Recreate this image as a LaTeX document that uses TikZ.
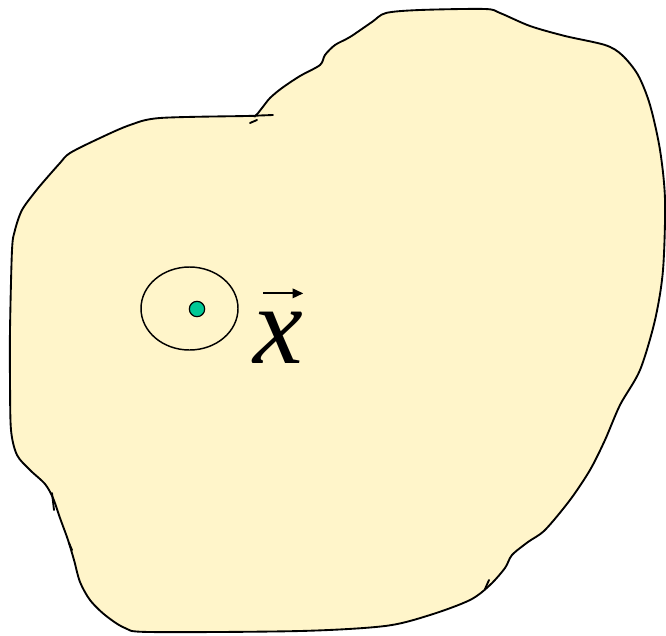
\documentclass[tikz,border=0pt]{standalone}
\usepackage{fontspec}
\setmainfont{Liberation Serif}
\usetikzlibrary{shapes.geometric,arrows.meta}
\definecolor{blobfill}{HTML}{FFF5CA}
\definecolor{dotgreen}{HTML}{00C896}
\begin{document}
\begin{tikzpicture}[x=0.75pt,y=-0.75pt,outline/.style={draw=black,line width=1.4pt,line join=round,line cap=round},every node/.style={inner sep=0pt}]
\useasboundingbox (0,0) rectangle (666,635);
% the region
\draw[outline,fill=blobfill] plot[smooth cycle,tension=0.5] coordinates {
 (12,250) (15,230) (22,210) (35,192) (45,180) (60,163) (70,153) (100,138) (130,125) (160,118) (247,116)
 (255,116) (262,108) (270,98) (282,88) (300,76) (320,65) (325,55) (335,45) (350,37) (372,22) (386,13)
 (420,10) (485,9) (500,13) (530,26) (565,36) (605,45) (622,55) (638,75) (650,105) (660,150) (665,200)
 (663,270) (655,320) (640,370) (620,405) (605,440) (590,470) (570,500) (545,530) (528,542) (512,555)
 (505,568) (490,585) (470,600) (430,615) (385,626) (300,631) (150,632) (125,628) (105,615) (90,600)
 (80,582) (74,560) (68,540) (60,518) (53,498) (45,484) (30,470) (17,455) (11,430) (10,380) (10,330)};
\draw[outline] (247,116) -- (273,115);
\draw[outline] (250,123) -- (257,120);
\draw[outline] (52,493) -- (54,510);
\draw[outline] (69,543) -- (72,550);
\draw[outline] (485,589) -- (489,580);
% the neighbourhood and the point
\node[ellipse,draw,line width=1.1pt,minimum width=72.75pt,minimum height=62.25pt] (nbhd) at (189.5,308.5) {};
\node[circle,draw,fill=dotgreen,line width=0.9pt,minimum size=11.5pt] (pt) at (197,309) {};
\node (lbl) at (278,338) {\fontsize{84}{84}\selectfont\itshape x};
\draw[line width=1.6pt,-{Triangle[length=8pt,width=7pt]}] ([xshift=-11pt,yshift=14pt]lbl.north) -- ++(40,0);
\end{tikzpicture}
\end{document}
